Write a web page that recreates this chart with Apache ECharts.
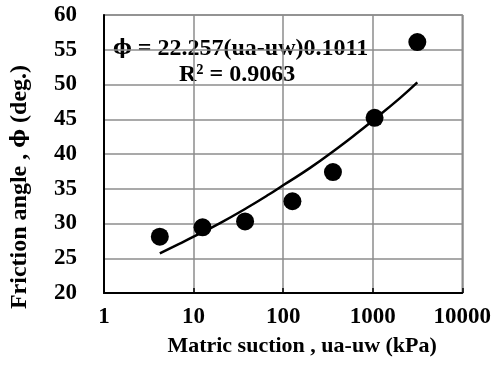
<!DOCTYPE html>
<html>
<head>
<meta charset="utf-8">
<script src="https://cdn.jsdelivr.net/npm/echarts@6/dist/echarts.min.js"></script>
<style>
  html, body { margin: 0; padding: 0; background: #fff; }
  #chart { width: 494px; height: 369px; }
</style>
</head>
<body>
<div id="chart"></div>
<script>
// measured points: matric suction (kPa) and friction angle (deg)
var suction = [4.2, 12.6, 37.6, 127, 360, 1050, 3150];
var phi = [28.1, 29.45, 30.3, 33.2, 37.4, 45.2, 56.1];

// power trend line
var trendX = [4.2, 7, 10, 20, 40, 70, 100, 200, 400, 700, 1000, 2000, 3150];
var trendY = [25.7, 27.1, 28.1, 30.1, 32.3, 34.2, 35.5, 38.0, 40.8, 43.2, 44.8, 48.0, 50.3];

// phi glyph is split out so it can use a font with the closed-loop form
var eqText = '{p|ϕ} = 22.257(ua-uw)0.1011';
var r2Text = 'R² = 0.9063';
var xTitle = 'Matric suction , ua-uw (kPa)';
var yTitle = 'Friction angle , {p|ϕ} (deg.)';

var font = '"Liberation Serif", "Times New Roman", serif';
var phiFont = '"DejaVu Serif", serif';

var myChart = echarts.init(document.getElementById('chart'));

var points = suction.map(function (x, i) { return [x, phi[i]]; });
var trend = trendX.map(function (x, i) { return [x, trendY[i]]; });

var option = {
  animation: false,
  grid: {
    left: 104, right: 27, top: 15, bottom: 76,
    show: true, borderColor: '#8c8c8c', borderWidth: 1.5
  },
  xAxis: {
    type: 'log',
    logBase: 10,
    min: 1,
    max: 10000,
    name: xTitle,
    nameLocation: 'middle',
    nameGap: 42,
    nameTextStyle: {
      fontFamily: font, fontWeight: 'bold', fontSize: 22, color: '#000',
      padding: [0, 0, 0, 38]
    },
    axisLine: { lineStyle: { color: '#000', width: 2 } },
    axisTick: { inside: true, length: 5, lineStyle: { color: '#000', width: 1.5 } },
    axisLabel: {
      fontFamily: font, fontWeight: 'bold', fontSize: 23, color: '#000', margin: 13,
      formatter: function (v) { return String(v); }
    },
    splitLine: { show: true, lineStyle: { color: '#8c8c8c', width: 1.5 } }
  },
  yAxis: {
    type: 'value',
    min: 20,
    max: 60,
    interval: 5,
    axisLine: { show: true, lineStyle: { color: '#000', width: 2 } },
    axisTick: { show: false },
    axisLabel: { fontFamily: font, fontWeight: 'bold', fontSize: 23, color: '#000', margin: 27 },
    splitLine: { show: true, lineStyle: { color: '#8c8c8c', width: 1.5 } }
  },
  graphic: [
    {
      type: 'text', x: 20, y: 187, rotation: Math.PI / 2,
      style: {
        text: yTitle, fontFamily: font, fontWeight: 'bold', fontSize: 24, fill: '#000',
        align: 'center', verticalAlign: 'middle',
        rich: { p: { fontFamily: phiFont, fontWeight: 'bold', fontSize: 20, fill: '#000' } }
      }
    },
    {
      type: 'text', left: 113, top: 37,
      style: {
        text: eqText, fontFamily: font, fontWeight: 'bold', fontSize: 24, fill: '#000',
        rich: { p: { fontFamily: phiFont, fontWeight: 'bold', fontSize: 20, fill: '#000' } }
      }
    },
    {
      type: 'text', left: 179, top: 63,
      style: { text: r2Text, fontFamily: font, fontWeight: 'bold', fontSize: 24, fill: '#000' }
    }
  ],
  series: [
    {
      type: 'line',
      data: trend,
      smooth: true,
      symbol: 'none',
      lineStyle: { color: '#000', width: 2.5 },
      z: 3
    },
    {
      type: 'scatter',
      data: points,
      symbol: 'circle',
      symbolSize: 18,
      itemStyle: { color: '#000', opacity: 1 },
      z: 4
    }
  ]
};

myChart.setOption(option);
window.addEventListener('resize', myChart.resize);
</script>
</body>
</html>
